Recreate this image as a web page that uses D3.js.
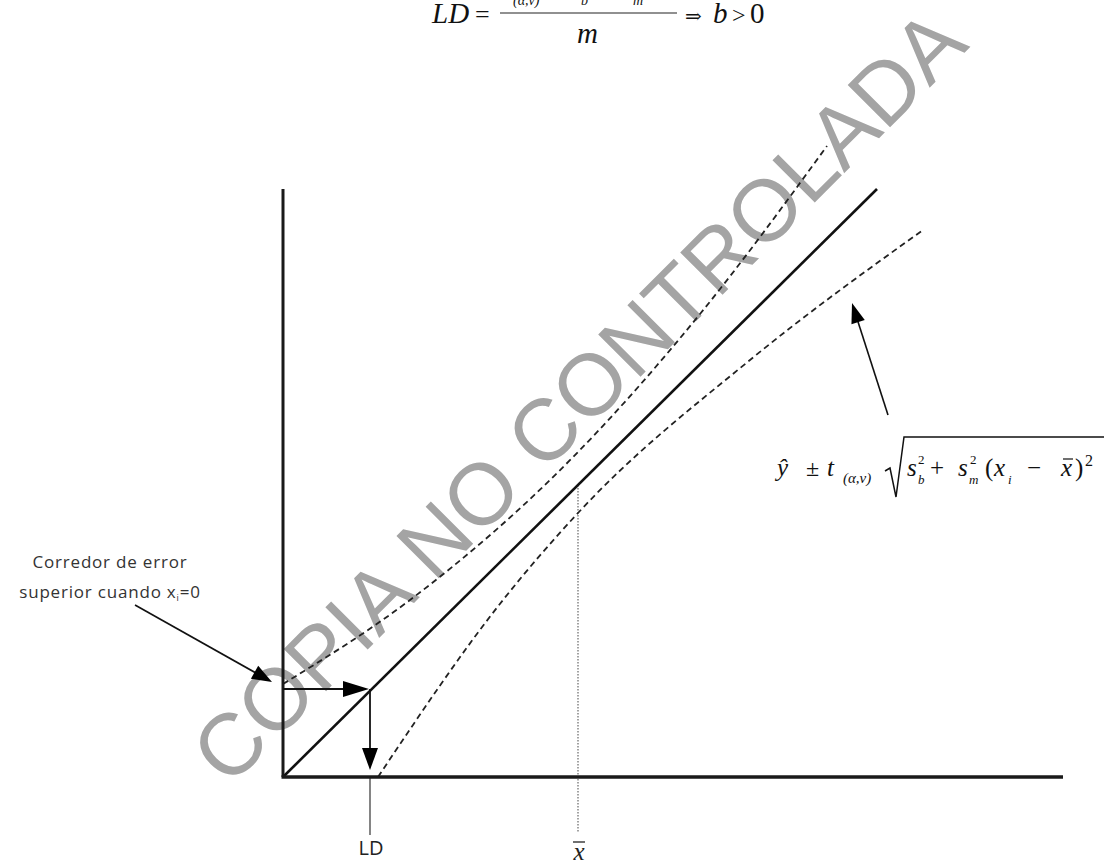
<!DOCTYPE html>
<html>
<head>
<meta charset="utf-8">
<script src="https://cdn.jsdelivr.net/npm/d3@7"></script>
<style>
  body { margin: 0; background: #fff; }
  svg { display: block; }
</style>
</head>
<body>
<svg id="main"></svg>
<script>

// values, in plot units
var regression = [[0, 0], [59.4, 58.8]];
var upperBand = [[0, 9.3], [12.7, 17.7], [29.5, 32.5], [41.7, 46.3], [54.4, 63.1]];
var lowerBand = [[9.5, 0], [22.0, 17.7], [29.5, 26.4], [46.7, 41.7], [64.0, 54.7]];
var ldPoint = [8.7, 8.8];
var xMean = 29.5;
var xAxisExtent = [0, 78];
var yAxisExtent = [0, 58.8];
var bandArrow = [[60.5, 36.2], [56.9, 47.4]];   // tail, tip
var noteArrow = [[-14.8, 17.2], [-1.1, 9.5]];   // tail, tip
var noteLines = ["Corredor de error", "superior cuando x"];
var watermark = "COPIA NO CONTROLADA";

var chart = {
  width: 1104,
  height: 865
}

var svg = d3.select("#main")
  .attr("width", chart.width)
  .attr("height", chart.height)

svg.append("rect")
  .attr("width", chart.width)
  .attr("height", chart.height)
  .attr("fill", "#fff")

var x = d3.scaleLinear().domain([0, 78]).range([283, 1063])
var y = d3.scaleLinear().domain([0, 59]).range([777, 187])

var serif = "'Liberation Serif', 'DejaVu Serif', serif";
var sans = "'Open Sans', 'Noto Sans', sans-serif";

// watermark sits under the drawing
svg.append("text")
  .attr("transform", "translate(578,396) rotate(-45)")
  .attr("text-anchor", "middle")
  .attr("dominant-baseline", "central")
  .attr("font-family", "'Liberation Sans', Arial, sans-serif")
  .attr("font-size", 87)
  .attr("fill", "#a4a4a4")
  .text(watermark)

var line = d3.line().x(function(d) { return x(d[0]) }).y(function(d) { return y(d[1]) })
var curve = d3.line().curve(d3.curveMonotoneX).x(function(d) { return x(d[0]) }).y(function(d) { return y(d[1]) })

// x mean dotted drop line
svg.append("line")
  .attr("x1", x(xMean)).attr("x2", x(xMean))
  .attr("y1", y(xMean * regression[1][1] / regression[1][0])).attr("y2", 832)
  .attr("stroke", "#666").attr("stroke-width", 1.2).attr("stroke-dasharray", "1.5,1.5")

// LD drop line
svg.append("line")
  .attr("x1", x(ldPoint[0])).attr("x2", x(ldPoint[0]))
  .attr("y1", y(0)).attr("y2", 835)
  .attr("stroke", "#333").attr("stroke-width", 1.2)

// bands
;[upperBand, lowerBand].forEach(function(b) {
  svg.append("path")
    .attr("d", curve(b))
    .attr("fill", "none")
    .attr("stroke", "#222")
    .attr("stroke-width", 1.8)
    .attr("stroke-dasharray", "6,4")
})

// regression line
svg.append("path")
  .attr("d", line(regression))
  .attr("fill", "none")
  .attr("stroke", "#111")
  .attr("stroke-width", 2.6)

// axes
svg.append("line")
  .attr("x1", x(0)).attr("x2", x(0))
  .attr("y1", y(yAxisExtent[0])).attr("y2", y(yAxisExtent[1]))
  .attr("stroke", "#1a1a1a").attr("stroke-width", 3)
svg.append("line")
  .attr("x1", x(xAxisExtent[0]) - 1.5).attr("x2", x(xAxisExtent[1]))
  .attr("y1", y(0)).attr("y2", y(0))
  .attr("stroke", "#1a1a1a").attr("stroke-width", 3.5)

function arrowHead(from, tip, len, half) {
  var dx = tip[0] - from[0], dy = tip[1] - from[1];
  var l = Math.sqrt(dx * dx + dy * dy);
  var ux = dx / l, uy = dy / l;
  var bx = tip[0] - ux * len, by = tip[1] - uy * len;
  var pts = [tip, [bx - uy * half, by + ux * half], [bx + uy * half, by - ux * half]];
  svg.append("path")
    .attr("d", "M" + pts.join("L") + "Z")
    .attr("fill", "#000")
}

function arrow(from, tip, len, half, w) {
  var dx = tip[0] - from[0], dy = tip[1] - from[1];
  var l = Math.sqrt(dx * dx + dy * dy);
  svg.append("line")
    .attr("x1", from[0]).attr("y1", from[1])
    .attr("x2", tip[0] - dx / l * (len - 2)).attr("y2", tip[1] - dy / l * (len - 2))
    .attr("stroke", "#111").attr("stroke-width", w)
  arrowHead(from, tip, len, half)
}

// LD arrows: y axis -> line, line -> x axis
arrow([x(0), y(ldPoint[1])], [x(ldPoint[0]) - 1, y(ldPoint[1])], 26, 8, 1.8)
arrow([x(ldPoint[0]), y(ldPoint[1])], [x(ldPoint[0]), y(0) - 7], 22, 8, 1.8)

// annotation arrows
arrow([x(bandArrow[0][0]), y(bandArrow[0][1])], [x(bandArrow[1][0]), y(bandArrow[1][1])], 20, 7, 1.6)
arrow([x(noteArrow[0][0]), y(noteArrow[0][1])], [x(noteArrow[1][0]), y(noteArrow[1][1])], 20, 7.5, 1.6)

// axis labels
svg.append("text")
  .attr("x", x(ldPoint[0]) + 1).attr("y", 855)
  .attr("text-anchor", "middle")
  .attr("font-family", sans).attr("font-size", 20)
  .attr("fill", "#222")
  .text("LD")

svg.append("text")
  .attr("x", x(xMean) + 1).attr("y", 860)
  .attr("text-anchor", "middle")
  .attr("font-family", serif).attr("font-style", "italic").attr("font-size", 25)
  .attr("fill", "#222")
  .text("x")
svg.append("line")
  .attr("x1", x(xMean) - 5).attr("x2", x(xMean) + 7)
  .attr("y1", 842).attr("y2", 842)
  .attr("stroke", "#222").attr("stroke-width", 1.3)

// note on the left
svg.append("text")
  .attr("x", 110).attr("y", 568)
  .attr("text-anchor", "middle")
  .attr("font-family", sans).attr("font-size", 17).attr("letter-spacing", 0.8)
  .attr("fill", "#333")
  .text(noteLines[0])
var n2 = svg.append("text")
  .attr("x", 110).attr("y", 598)
  .attr("text-anchor", "middle")
  .attr("font-family", sans).attr("font-size", 17).attr("letter-spacing", 0.8)
  .attr("fill", "#333")
n2.append("tspan").text(noteLines[1])
n2.append("tspan").attr("font-size", 9).attr("dy", 3).text("i")
n2.append("tspan").attr("dy", -3).text("=0")

// formula on the right
function put(txt, px, py, size, italic) {
  svg.append("text")
    .attr("x", px).attr("y", py)
    .attr("font-family", serif)
    .attr("font-style", italic ? "italic" : "normal")
    .attr("font-size", size)
    .attr("fill", "#111")
    .text(txt)
}
put("ŷ", 777, 476, 25, true)
put("±", 806, 476, 24, false)
put("t", 827, 476, 25, true)
put("(α,ν)", 843, 483, 15, true)
svg.append("path")
  .attr("d", "M885,471 L890,468 L896,497 L904,437 L1104,437")
  .attr("fill", "none").attr("stroke", "#111").attr("stroke-width", 1.5)
put("s", 907, 476, 25, true)
put("2", 918, 464, 13, false)
put("b", 918, 484, 13, true)
put("+", 930, 476, 25, false)
put("s", 958, 476, 25, true)
put("2", 970, 464, 13, false)
put("m", 969, 484, 13, true)
put("(", 985, 476, 25, false)
put("x", 994, 476, 25, true)
put("i", 1008, 484, 13, true)
put("−", 1027, 476, 25, false)
put("x", 1061, 476, 25, true)
svg.append("line").attr("x1", 1063).attr("x2", 1073).attr("y1", 459).attr("y2", 459).attr("stroke", "#111").attr("stroke-width", 1.2)
put(")", 1075, 476, 25, false)
put("2", 1085, 466, 16, false)

// LD formula at the top, numerator cut by the page edge
put("LD", 432, 23, 29, true)
put("=", 475, 23, 26, false)
svg.append("line").attr("x1", 500).attr("x2", 677).attr("y1", 13).attr("y2", 13).attr("stroke", "#222").attr("stroke-width", 1.2)
put("t", 503, -1, 24, true)
put("(α,ν)", 513, 5, 14, true)
put("s", 572, -1, 24, true)
put("b", 581, 5, 14, true)
put("−", 598, -1, 24, false)
put("s", 624, -1, 24, true)
put("m", 633, 5, 14, true)
put("m", 577, 43, 29, true)
put("⇒", 685, 23, 20, false)
put("b", 713, 23, 29, true)
put(">", 732, 23, 24, false)
put("0", 750, 23, 29, false)

</script>
</body>
</html>
